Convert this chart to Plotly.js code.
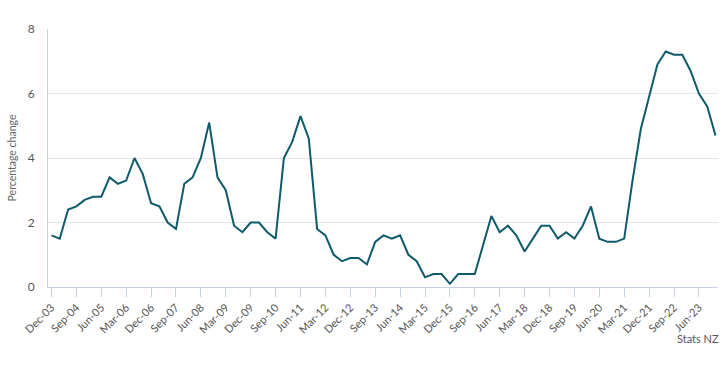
<!DOCTYPE html>
<html><head><meta charset="utf-8">
<script src="https://cdn.plot.ly/plotly-3.0.1.min.js"></script>
<style>html,body{margin:0;padding:0;background:#fff}#c{width:728px;height:371px}</style>
</head><body><div id="c"></div>
<script>
const quarters = [];
const qn = ["Mar","Jun","Sep","Dec"];
const startYear = 2003, startQ = 3, count = 81;
for (let i = 0; i < count; i++) {
  const k = startQ + i;
  const y = startYear + Math.floor(k / 4);
  quarters.push(qn[k % 4] + "-" + String(y % 100).padStart(2, "0"));
}
const values = [1.6,1.5,2.4,2.5,2.7,2.8,2.8,3.4,3.2,3.3,4.0,3.5,2.6,2.5,2.0,1.8,3.2,3.4,4.0,5.1,
3.4,3.0,1.9,1.7,2.0,2.0,1.7,1.5,4.0,4.5,5.3,4.6,1.8,1.6,1.0,0.8,0.9,0.9,0.7,1.4,
1.6,1.5,1.6,1.0,0.8,0.3,0.4,0.4,0.1,0.4,0.4,0.4,1.3,2.2,1.7,1.9,1.6,1.1,1.5,1.9,
1.9,1.5,1.7,1.5,1.9,2.5,1.5,1.4,1.4,1.5,3.3,4.9,5.9,6.9,7.3,7.2,7.2,6.7,6.0,5.6,4.7];
const tickLabels = quarters.filter((q, i) => i % 3 === 0 && i <= 78);
const idx = quarters.map((q, i) => i);

Plotly.newPlot("c", [{
  x: idx, y: values, type: "scatter", mode: "lines",
  line: {color: "#0f5a6b", width: 2}, hoverinfo: "none"
}], {
  width: 728, height: 371,
  margin: {l: 48, r: 10, t: 29, b: 84},
  paper_bgcolor: "#fff", plot_bgcolor: "#fff",
  font: {family: "Lato, 'Open Sans', sans-serif", color: "#555"},
  showlegend: false,
  xaxis: {
    range: [-0.42, 80.3],
    tickvals: idx.filter(i => i % 3 === 0 && i <= 78),
    ticktext: tickLabels,
    tickangle: -45, tickfont: {size: 11, color: "#555"},
    showgrid: false, zeroline: false,
    showline: true, linecolor: "#c8d3e6", linewidth: 1,
    ticks: "outside", ticklen: 9, tickcolor: "#c8d3e6"
  },
  yaxis: {
    range: [0, 8], tickvals: [0,2,4,6,8],
    tickfont: {size: 12, color: "#555"},
    showgrid: true, gridcolor: "#e6e6e6", zeroline: false,
    showline: true, linecolor: "#c8d3e6", linewidth: 1,
    ticks: "", ticklabelstandoff: 10,
    title: {text: "Percentage change", font: {size: 10.5, color: "#666"}, standoff: 8}
  },
  annotations: [{
    text: "Stats NZ", xref: "paper", yref: "paper", x: 1.005, y: -0.165,
    xanchor: "right", yanchor: "top", showarrow: false,
    font: {size: 11, color: "#555"}
  }]
}, {staticPlot: true});
</script></body></html>
